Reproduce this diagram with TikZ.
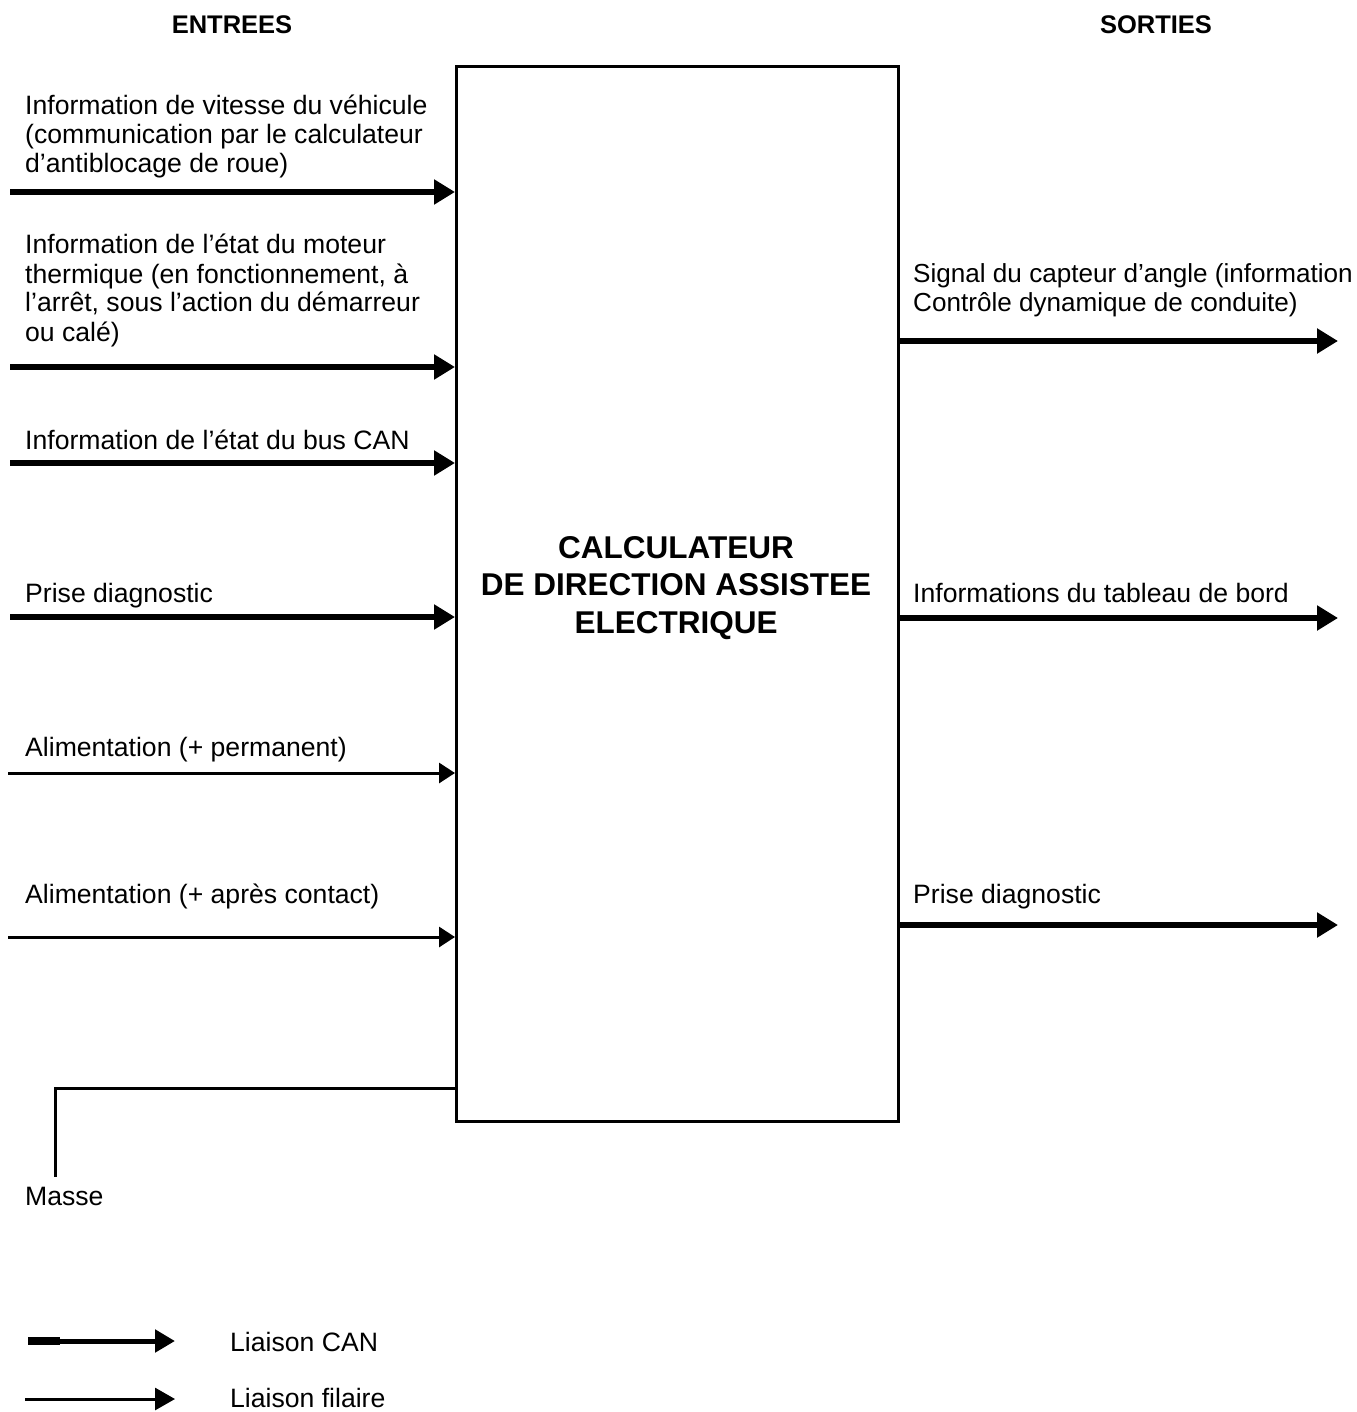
\documentclass[tikz,border=0pt]{standalone}
\usepackage{fontspec}
\setmainfont{Liberation Sans}
\usetikzlibrary{arrows.meta}
\begin{document}
\begin{tikzpicture}[x=1pt,y=-1pt,
  lbl/.style={inner sep=0pt,anchor=base west,align=left,font=\fontsize{26.6}{29}\selectfont},
  head/.style={inner sep=0pt,anchor=base,font=\bfseries\fontsize{25.5}{29}\selectfont},
  can/.style={line width=6pt,-{Triangle[length=21pt,width=24pt]}},
  wire/.style={line width=3pt,-{Triangle[length=16pt,width=20pt]}},
  frame/.style={draw,line width=3pt}]
\useasboundingbox (0,0) rectangle (1356,1412);

% central unit
\node[frame,minimum width=442pt,minimum height=1055pt,anchor=north west,inner sep=0pt] (box) at (455,65) {};
\node[inner sep=0pt,align=center,font=\bfseries\fontsize{31.5}{37.5}\selectfont] (title) at (676,588)
  {CALCULATEUR\\DE DIRECTION ASSISTEE\\ELECTRIQUE};

% column headings
\node[head] (hin) at (232,34) {ENTREES};
\node[head] (hout) at (1156,34) {SORTIES};

% inputs (base anchor sits on the last line)
\node[lbl] (l1) at (25,173) {Information de vitesse du véhicule\\(communication par le calculateur\\d’antiblocage de roue)};
\node[lbl] (l2) at (25,341) {Information de l’état du moteur\\thermique (en fonctionnement, à\\l’arrêt, sous l’action du démarreur\\ou calé)};
\node[lbl] (l3) at (25,449) {Information de l’état du bus CAN};
\node[lbl] (l4) at (25,602) {Prise diagnostic};
\node[lbl] (l5) at (25,756) {Alimentation (+ permanent)};
\node[lbl] (l6) at (25,903) {Alimentation (+ après contact)};

\coordinate (i1) at (10,192);
\coordinate (i2) at (10,367);
\coordinate (i3) at (10,463);
\coordinate (i4) at (10,617);
\coordinate (i5) at (8,773);
\coordinate (i6) at (8,937);
\draw[can] (i1) -- (i1 -| box.west);
\draw[can] (i2) -- (i2 -| box.west);
\draw[can] (i3) -- (i3 -| box.west);
\draw[can] (i4) -- (i4 -| box.west);
\draw[wire] (i5) -- (i5 -| box.west);
\draw[wire] (i6) -- (i6 -| box.west);

% ground
\coordinate (gnd) at (55,1177);
\node[lbl] (lm) at (25,1205) {Masse};
\draw[line width=3pt] (box.west |- 0,1088) -- (55,1088) -- (gnd);

% outputs
\node[lbl,font=\fontsize{26.1}{29}\selectfont] (o1) at (913,312) {Signal du capteur d’angle (information\\Contrôle dynamique de conduite)};
\node[lbl] (o2) at (913,602) {Informations du tableau de bord};
\node[lbl] (o3) at (913,903) {Prise diagnostic};
\coordinate (e1) at (1338,341);
\coordinate (e2) at (1338,618);
\coordinate (e3) at (1338,925);
\draw[can] (box.east |- e1) -- (e1);
\draw[can] (box.east |- e2) -- (e2);
\draw[can] (box.east |- e3) -- (e3);

% legend
\coordinate (k1a) at (28,1341);
\coordinate (k1b) at (175,1341);
\coordinate (k2a) at (25,1399);
\coordinate (k2b) at (175,1399);
\draw[line width=8pt] (k1a) -- (60,1341);
\draw[line width=5pt,-{Triangle[length=20pt,width=22pt]}] (60,1341) -- (k1b);
\draw[line width=3pt,-{Triangle[length=20pt,width=22pt]}] (k2a) -- (k2b);
\node[lbl] (kc) at (230,1351) {Liaison CAN};
\node[lbl] (kf) at (230,1407) {Liaison filaire};
\end{tikzpicture}
\end{document}
